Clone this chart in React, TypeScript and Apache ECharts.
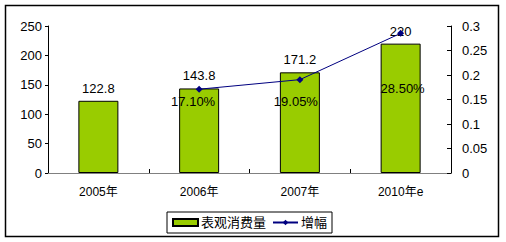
import React, { useEffect, useRef } from "react";
import * as echarts from "echarts";

const categories = ["2005年", "2006年", "2007年", "2010年e"];
const consumption = [122.8, 143.8, 171.2, 220];
const growth: (number | null)[] = [null, 0.171, 0.1905, 0.285];
const leftTicks = { min: 0, max: 250, interval: 50 };
const rightTicks = { min: 0, max: 0.3, interval: 0.05 };

// label placement offsets for the growth labels (style, not data)
const growthLabelOffsets: [number, number][] = [
  [0, 0],
  [-6, 12],
  [-4, 22],
  [2, 55],
];

const FONT = "'Liberation Sans', Arial, 'Noto Sans CJK SC', sans-serif";

export default function App() {
  const ref = useRef<HTMLDivElement>(null);
  useEffect(() => {
    document.body.style.margin = "0";
    if (!ref.current) return;
    const chart = echarts.init(ref.current, undefined, { renderer: "svg" });
    chart.setOption({
      animation: false,
      backgroundColor: "#ffffff",
      textStyle: { fontFamily: FONT, color: "#000" },
      grid: { left: 48, right: 55, top: 26, bottom: 69 },
      graphic: [
        {
          type: "rect",
          shape: { x: 5.5, y: 5.5, width: 493, height: 231 },
          style: { fill: "none", stroke: "#000", lineWidth: 1.5 },
          silent: true,
        },
      ],
      legend: {
        left: 167,
        top: 212,
        padding: [4, 5],
        itemGap: 6,
        itemWidth: 25,
        itemHeight: 7,
        borderColor: "#000",
        borderWidth: 1,
        textStyle: { fontSize: 13, fontFamily: FONT, color: "#000", padding: [0, 0, 0, -2] },
        data: [
          { name: "表观消费量", icon: "rect" },
          { name: "增幅" },
        ],
      },
      xAxis: [
        {
          type: "category",
          data: categories,
          axisLine: { lineStyle: { color: "#000", width: 1 } },
          axisTick: { show: true, inside: true, length: 4, lineStyle: { color: "#000" } },
          axisLabel: { fontSize: 12, color: "#000", margin: 13, fontFamily: FONT },
        },
        {
          type: "category",
          data: categories,
          position: "top",
          axisLine: { lineStyle: { color: "#808080", width: 1 } },
          axisTick: { show: false },
          axisLabel: { show: false },
        },
      ],
      yAxis: [
        {
          type: "value",
          ...leftTicks,
          axisLine: { show: true, lineStyle: { color: "#000" } },
          axisTick: { show: true, length: 3, lineStyle: { color: "#000" } },
          splitLine: { show: false },
          axisLabel: { fontSize: 13, color: "#000", margin: 6, fontFamily: FONT },
        },
        {
          type: "value",
          ...rightTicks,
          position: "right",
          axisLine: { show: true, lineStyle: { color: "#000" } },
          axisTick: { show: true, inside: true, length: 4, lineStyle: { color: "#000" } },
          splitLine: { show: false },
          axisLabel: {
            fontSize: 13,
            color: "#000",
            margin: 11,
            fontFamily: FONT,
            formatter: (v: number) => String(Math.round(v * 100) / 100),
          },
        },
      ],
      series: [
        {
          name: "表观消费量",
          type: "bar",
          data: consumption,
          barWidth: 40,
          itemStyle: { color: "#99CC00", borderColor: "#000", borderWidth: 1 },
          label: {
            show: true,
            position: "top",
            distance: 6,
            fontSize: 13,
            color: "#000",
            fontFamily: FONT,
          },
        },
        {
          name: "增幅",
          type: "line",
          yAxisIndex: 1,
          data: growth.map((v, i) => ({
            value: v,
            label: { offset: growthLabelOffsets[i] },
          })),
          symbol: "diamond",
          symbolSize: 7,
          lineStyle: { color: "#000080", width: 1 },
          itemStyle: { color: "#000080" },
          label: {
            show: true,
            position: "inside",
            fontSize: 13,
            color: "#000",
            fontFamily: FONT,
            formatter: (p: any) => (p.value == null ? "" : (p.value * 100).toFixed(2) + "%"),
          },
        },
      ],
    });
    return () => chart.dispose();
  }, []);
  return <div ref={ref} style={{ width: 506, height: 242 }} />;
}
